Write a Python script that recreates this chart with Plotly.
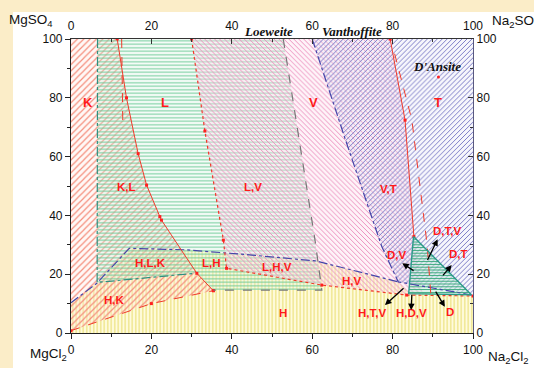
import plotly.graph_objects as go

# ---- crystallization fields (x = Na2Cl2 %, y = MgSO4 %) ----
H_x = [0, 0, 6.4, 14.5, 28.8, 45, 61, 81.4, 84, 100, 100]
H_y = [0, 10.3, 16.9, 28.8, 28.3, 26.5, 24.5, 17.4, 14.0, 12.6, 0]
K_x = [0, 11.5, 13.8, 16.7, 18.8, 22.1, 22.5, 31.3, 35.4, 20, 0]
K_y = [100, 100, 80, 61, 50.3, 39.6, 38.4, 20.3, 14.4, 10, 0.8]
L_x = [6.6, 52.8, 60.7, 62.4, 35.4, 31.3, 6.5]
L_y = [100, 100, 31.6, 14.6, 14.6, 20.3, 17.2]
V_x = [30, 79.4, 83.1, 85.3, 87.5, 83.5, 62.4, 38.7, 37.9, 33.3]
V_y = [100, 100, 72.4, 32.8, 13.2, 12.9, 16.3, 22, 31.6, 68.7]
T_x = [60, 100, 100, 99.7, 81.4, 77.3, 68.3]
T_y = [100, 100, 12.9, 12.9, 17.4, 29.4, 65.6]
D_x = [85.2, 99.6, 84.0, 85.2]
D_y = [32.8, 13.0, 13.4, 32.8]

# ---- boundary curves ----
bL_x = [6.6, 6.5, 30.8]; bL_y = [100, 17.2, 20.3]
bH_x = [0, 6.4, 14.5, 28.8, 45, 61, 81.4]; bH_y = [10.3, 16.9, 28.8, 28.3, 26.5, 24.5, 17.4]
bT_x = [60, 68.3, 77.3, 81.4, 99.7]; bT_y = [100, 65.6, 29.4, 17.4, 12.9]
bK_x = [11.5, 13.8, 16.7, 18.8, 22.1, 22.5, 31.3, 35.4]; bK_y = [100, 80, 61, 50.3, 39.6, 38.4, 20.3, 14.4]
bK2_x = [12.6, 12.9]; bK2_y = [100, 70]
bKb_x = [0, 20, 35.4]; bKb_y = [0.8, 10, 14.4]
bV_x = [30, 33.3, 37.9, 38.7, 62.4, 83.5, 100]; bV_y = [100, 68.7, 31.6, 22, 16.3, 12.9, 12.6]
bLr_x = [52.8, 60.7, 62.4, 35.4]; bLr_y = [100, 31.6, 14.6, 14.6]
bVr_x = [79.4, 83.1, 85.3]; bVr_y = [100, 72.4, 32.8]
bVr2_x = [80.5, 84.8, 88.6, 89.5]; bVr2_y = [95, 72.4, 29.9, 13.2]

# ---- labels ----
lab_text = ["K", "L", "V", "T", "K,L", "L,V", "V,T", "H,L,K", "L,H", "L,H,V", "H,V", "H,K", "H",
            "D,T,V", "D,V", "D,T", "H,T,V", "H,D,V", "D"]
lab_x = [4.2, 23.4, 60.2, 91.2, 13.7, 45.3, 78.9, 19.7, 35.0, 51.2, 69.8, 10.9, 52.7,
         93.5, 81.2, 96.3, 74.8, 84.7, 94.3]
lab_y = [78.4, 78.4, 78.4, 78.4, 49.8, 49.8, 49.0, 23.7, 23.7, 22.3, 17.6, 11.2, 6.9,
         34.6, 26.5, 27.0, 6.7, 6.7, 7.2]
arr_head_x = [91.2, 82.4, 94.7, 78.1, 84.6, 93.0]
arr_head_y = [31.9, 23.7, 23.1, 9.5, 7.8, 8.9]
arr_tail_x = [88.5, 85.6, 92.2, 83.1, 84.8, 90.5]
arr_tail_y = [24.3, 20.9, 19.1, 15.7, 13.5, 14.6]

ticks = [0, 20, 40, 60, 80, 100]

fig = go.Figure()

def field(x, y, shape, fg, bg, size, sol):
    fig.add_trace(go.Scatter(
        x=x, y=y, fill="toself", mode="lines", line=dict(width=0, color=fg),
        fillcolor=bg,
        fillpattern=dict(shape=shape, fgcolor=fg, bgcolor=bg, size=size,
                         solidity=sol, fillmode="replace"),
        hoverinfo="skip", showlegend=False))

field(H_x, H_y, "|", "#e6dc66", "rgba(255,251,218,0.9)", 3.5, 0.28)
field(K_x, K_y, "/", "#f48c7a", "rgba(255,232,226,0.3)", 4.5, 0.26)
field(L_x, L_y, "-", "#6cca98", "rgba(220,244,230,0.3)", 3.5, 0.28)
field(V_x, V_y, "\\", "#ec90bd", "rgba(252,224,238,0.4)", 3.5, 0.28)
field(T_x, T_y, "/", "#7a7ac6", "rgba(226,226,246,0.3)", 3.5, 0.28)
field(D_x, D_y, "-", "#3aa87c", "rgba(190,235,218,0.45)", 2.8, 0.35)

def bline(x, y, color, dash, width=1.2, markers=False):
    fig.add_trace(go.Scatter(
        x=x, y=y, mode="lines+markers" if markers else "lines",
        line=dict(color=color, dash=dash, width=width),
        marker=dict(size=3, color="#ff2020", symbol="square"),
        hoverinfo="skip", showlegend=False))

bline(bL_x, bL_y, "#2f8f80", "dashdot")
bline(bH_x, bH_y, "#4545a8", "dashdot")
bline(bT_x, bT_y, "#4545a8", "dashdot")
bline(bK_x, bK_y, "#f03a2a", "solid", 1.0, True)
bline(bK2_x, bK2_y, "#f03a2a", "dash", 1.0)
bline(bKb_x, bKb_y, "#f03a2a", "dash", 1.0, True)
bline(bV_x, bV_y, "#f03a2a", "dot", 1.2, True)
bline(bLr_x, bLr_y, "#777777", "dash", 1.2)
bline(bVr_x, bVr_y, "#f03a2a", "solid", 1.0, True)
bline(bVr2_x, bVr2_y, "#f03a2a", "dash", 1.0)
bline(D_x, D_y, "#2a9a8a", "solid", 1.4)

# D'Ansite point
fig.add_trace(go.Scatter(x=[91.4], y=[87.1], mode="markers",
                         marker=dict(size=3, color="#ff2020"), hoverinfo="skip",
                         showlegend=False))
# dummy trace for top/right axes
fig.add_trace(go.Scatter(x=[None], y=[None], xaxis="x2", yaxis="y2", showlegend=False))

for t, x, y in zip(lab_text, lab_x, lab_y):
    big = len(t) == 1 and t in "KLVT"
    fig.add_annotation(x=x, y=y, text="<b>%s</b>" % t, showarrow=False,
                       xanchor="center", yanchor="middle",
                       font=dict(family="Liberation Sans", size=13 if big else 11.5,
                                 color="#ff1a1a"))

for hx, hy, tx, ty in zip(arr_head_x, arr_head_y, arr_tail_x, arr_tail_y):
    fig.add_annotation(x=hx, y=hy, ax=tx, ay=ty, axref="x", ayref="y", text="",
                       showarrow=True, arrowhead=2, arrowsize=1, arrowwidth=1.3,
                       arrowcolor="black")

def ptext(x, y, text, font, xanchor="center"):
    fig.add_annotation(xref="paper", yref="paper", x=x, y=y, text=text, showarrow=False,
                       xanchor=xanchor, yanchor="middle", font=font)

serif = dict(family="Liberation Serif", size=13, color="#111111")
ptext(0.4925, 1.027, "<b><i>Loeweite</i></b>", serif)
ptext(0.699, 1.027, "<b><i>Vanthoffite</i></b>", serif)
fig.add_annotation(x=91.0, y=90.5, text="<b><i>D'Ansite</i></b>", showarrow=False,
                   xanchor="center", yanchor="middle", font=serif)

tfont = dict(family="Liberation Sans", size=13.5, color="#111111")
ptext(-0.0995, 1.064, "MgSO<sub>4</sub>", tfont)
ptext(1.042, 1.058, "Na<sub>2</sub>SO<sub>4</sub>", tfont, "left")
ptext(-0.057, -0.072, "MgCl<sub>2</sub>", tfont)
ptext(1.032, -0.085, "Na<sub>2</sub>Cl<sub>2</sub>", tfont, "left")

# white panel over beige surround
fig.add_shape(type="rect", xref="paper", yref="paper", x0=-0.1443, x1=1.3, y0=-0.3, y1=1.0918,
              fillcolor="white", line=dict(width=0), layer="below")

kfont = dict(family="Liberation Sans", size=12, color="#111111")
common = dict(range=[0, 100], tickvals=ticks, showgrid=False, zeroline=False,
              showline=True, linewidth=1.2, tickfont=kfont, ticklen=5, tickwidth=1.2)
fig.update_layout(
    width=534, height=368,
    margin=dict(l=71, r=61, t=39, b=35),
    paper_bgcolor="#fbedc8", plot_bgcolor="white",
    xaxis=dict(**common, ticks="outside", linecolor="#222", tickcolor="#222",
               minor=dict(dtick=10, tick0=0, ticks="outside", ticklen=3, tickcolor="#222")),
    yaxis=dict(**common, ticks="outside", linecolor="#222", tickcolor="#222",
               minor=dict(dtick=10, tick0=0, ticks="outside", ticklen=3, tickcolor="#222")),
    xaxis2=dict(**common, overlaying="x", side="top", ticks="inside", linecolor="#333",
                tickcolor="#333", ticklabelstandoff=3,
                minor=dict(dtick=10, tick0=0, ticks="inside", ticklen=3, tickcolor="#333")),
    yaxis2=dict(**common, overlaying="y", side="right", ticks="inside", linecolor="#5a5a80",
                tickcolor="#333",
                minor=dict(dtick=10, tick0=0, ticks="inside", ticklen=3, tickcolor="#333")),
)

fig.write_html("out.html", config={"displayModeBar": False},
               post_script="document.body.style.margin='0px';")
